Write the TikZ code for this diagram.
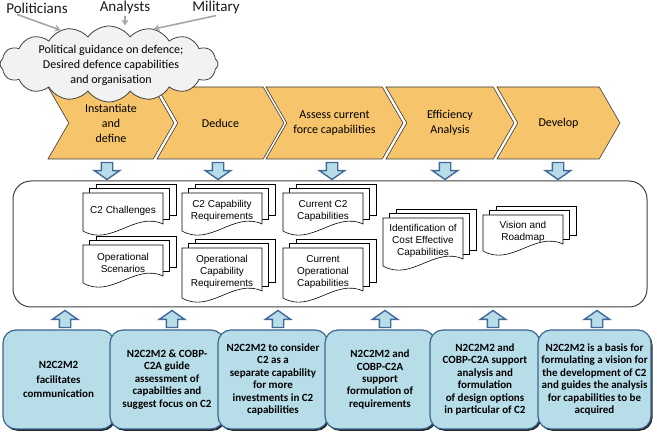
\documentclass[tikz,border=0pt]{standalone}
\usepackage{fontspec}
\setmainfont{Carlito}
\newfontfamily\docfont{Liberation Sans}
\usetikzlibrary{arrows.meta,positioning,shapes.symbols,shapes.arrows,shadows}
\definecolor{chevfill}{HTML}{F6C46A}
\definecolor{chevline}{HTML}{3A3A3A}
\definecolor{aqua}{HTML}{B7DDE8}
\definecolor{aquadark}{HTML}{3B6592}
\definecolor{arrline}{HTML}{41699A}
\definecolor{cloudfill}{HTML}{F2F2F2}
\definecolor{inkgray}{HTML}{404040}
\definecolor{pointgray}{HTML}{A6A6A6}
\tikzset{
  who/.style={font=\fontsize{15}{17}\selectfont, text=black!90, inner sep=1pt},
  garr/.style={-{Stealth[length=6pt,width=7pt]}, line width=1.6pt, color=pointgray},
  cloudbx/.style={cloud, cloud puffs=16, cloud puff arc=110, cloud ignores aspect, draw=inkgray, fill=cloudfill, line width=0.8pt, minimum width=218pt, minimum height=76pt, inner sep=0pt},
  cloudtxt/.style={font=\fontsize{12}{15}\selectfont, align=center, inner sep=0pt},
  chev/.style={signal, signal from=west, signal to=east, signal pointer angle=120, draw=chevline, fill=chevfill, line width=0.6pt, minimum height=72pt, font=\fontsize{12}{15}\selectfont, align=center, inner sep=1pt},
  darr/.style={single arrow, shape border rotate=270, draw=arrline, fill=aqua, line width=1.4pt, minimum height=17pt, minimum width=25pt, single arrow head extend=7pt, single arrow tip angle=110, inner sep=5pt},
  uarr/.style={darr, shape border rotate=90},
  panel/.style={draw=inkgray, line width=1pt, rounded corners=18pt, minimum width=634pt, minimum height=126pt},
  docline/.style={draw=black, fill=white, line width=0.6pt},
  doctxt/.style={font=\docfont\fontsize{10}{11.7}\selectfont, align=center, inner sep=0pt},
  nbox/.style={draw=aquadark, fill=aqua, line width=1.2pt, rounded corners=13pt, minimum height=99pt, inner sep=2pt, font=\bfseries\fontsize{11}{12.4}\selectfont, align=center, drop shadow={shadow xshift=1.5pt, shadow yshift=-1.8pt, fill=black, opacity=0.85}},
}
% pile of three pages: name, x, y, width, height, text
\newcommand{\docpile}[6]{%
  \foreach \k in {2,1}
    \draw[docline] ({#2+6.5*\k},{#3-4.5*\k}) rectangle ++(#4,{#5-9});
  \draw[docline] (#2,{#3+#5-2}) -- (#2,#3) -- ({#2+#4},#3) -- ({#2+#4},{#3+#5-9})
    .. controls ({#2+0.65*#4},{#3+#5-22}) and ({#2+0.35*#4},{#3+#5+14}) .. cycle;
  \node[doctxt] (#1) at ({#2+#4/2},{#3+#5/2-2}) {#6};
}
\begin{document}
\begin{tikzpicture}[x=1pt, y=-1pt]
  \useasboundingbox (0,0) rectangle (657,435);
  % process steps
  \node[chev, minimum width=126pt] (inst) at (111,123) {Instantiate\\and\\define};
  \node[chev, minimum width=127pt] (ded) at (220.5,123) {Deduce};
  \node[chev, minimum width=137pt] (asses) at (334.5,123) {Assess current\\force capabilities};
  \node[chev, minimum width=128pt] (eff) at (450,123) {Efficiency\\Analysis};
  \node[chev, minimum width=123pt] (dev) at (558.5,123) {Develop};
  % stakeholders and guidance
  \node[who] (pol) at (37,8) {Politicians};
  \node[who] (ana) at (125,8) {Analysts};
  \node[who] (mil) at (216,8) {Military};
  \node[cloudbx] (cloud) at (109,64) {};
  \node[cloudtxt] (guide) at (111,65) {Political guidance on defence;\\Desired defence capabilities\\and organisation};
  \draw[garr] ([xshift=-20pt]pol.south) -- (cloud.145);
  \draw[garr] (ana.south) -- (ana.south |- cloud.north);
  \draw[garr] (mil.south) -- (cloud.38);
  % products
  \foreach \x [count=\i] in {107,218,332,445,558} \node[darr] (dn\i) at (\x,169) {};
  \node[panel] (board) at (330,244) {};
  \docpile{chal}{83}{193}{80}{40}{C2 Challenges}
  \docpile{scen}{83}{245}{80}{40}{Operational\\Scenarios}
  \docpile{ccreq}{182}{193}{80}{40}{C2 Capability\\Requirements}
  \docpile{ocreq}{182}{248}{80}{52}{Operational\\Capability\\Requirements}
  \docpile{curc}{283}{193}{80}{40}{Current C2\\Capabilities}
  \docpile{curo}{283}{248}{80}{52}{Current\\Operational\\Capabilities}
  \docpile{ident}{383}{218}{80}{50}{Identification of\\Cost Effective\\Capabilities}
  \docpile{vis}{483}{215}{80}{38}{Vision and\\Roadmap}
  % model support
  \foreach \x [count=\i] in {65,172,278,385,493,597} \node[uarr] (up\i) at (\x,321) {};
  \node[nbox, minimum width=111pt, font=\bfseries\fontsize{11}{14.5}\selectfont] (nb1) at (58.5,379.5) {N2C2M2\\facilitates\\communication};
  \node[nbox, minimum width=114pt] (nb2) at (167,379.5) {N2C2M2 \& COBP-\\C2A guide\\assessment of\\capabilties and\\suggest focus on C2};
  \node[nbox, minimum width=110pt] (nb3) at (273,379.5) {N2C2M2 to consider\\C2 as a\\separate capability\\for more\\investments in C2\\capabilities};
  \node[nbox, minimum width=110pt] (nb4) at (380,379.5) {N2C2M2 and\\COBP-C2A\\support\\formulation of\\requirements};
  \node[nbox, minimum width=110pt] (nb5) at (485,379.5) {N2C2M2 and\\COBP-C2A support\\analysis and\\formulation\\of design options\\in particular of C2};
  \node[nbox, minimum width=113pt] (nb6) at (594.5,379.5) {N2C2M2 is a basis for\\formulating a vision for\\the development of C2\\and guides the analysis\\for capabilities to be\\acquired};
\end{tikzpicture}
\end{document}
